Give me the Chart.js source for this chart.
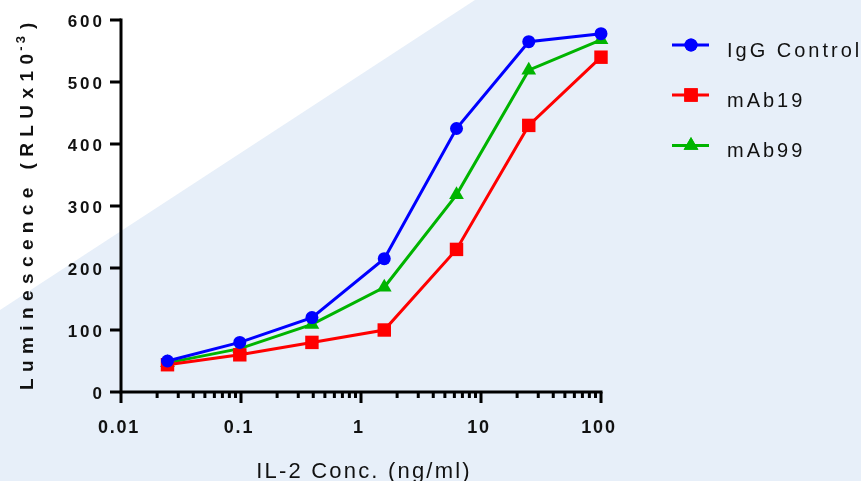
<!DOCTYPE html>
<html>
<head>
<meta charset="utf-8">
<script src="https://cdn.jsdelivr.net/npm/chart.js@4.4.1/dist/chart.umd.min.js"></script>
<style>
  html, body { margin: 0; padding: 0; background: #fff; }
  #wrap { width: 861px; height: 481px; }
</style>
</head>
<body>
<div id="wrap"><canvas id="c" width="861" height="481"></canvas></div>
<script>
// IL-2 concentrations (ng/ml), 4-fold dilution series
const concentrations = [0.0244, 0.0977, 0.39, 1.5625, 6.25, 25, 100];
const iggControl = [50, 80, 120, 215, 425, 565, 578];
const mab19 = [44, 60, 80, 100, 230, 430, 540];
const mab99 = [47, 70, 109, 169, 318, 519, 568];

const seriesNames = ['IgG Control', 'mAb19', 'mAb99'];
const seriesColors = ['#0000ff', '#ff0000', '#00b400'];
const seriesMarkers = ['circle', 'rect', 'triangle'];
const markerRadius = [6.5, 9.5, 8.5];

const xTickValues = [0.01, 0.1, 1, 10, 100];
const xTickLabels = ['0.01', '0.1', '1', '10', '100'];
const yTickValues = [0, 100, 200, 300, 400, 500, 600];

const xTitle = 'IL-2 Conc. (ng/ml)';
const yTitle = 'Luminescence (RLUx10';
const yTitleSup = '-3';

function makeDataset(i, values) {
  return {
    label: seriesNames[i],
    data: concentrations.map((x, k) => ({ x: x, y: values[k] })),
    borderColor: seriesColors[i],
    backgroundColor: seriesColors[i],
    borderWidth: 3,
    pointStyle: seriesMarkers[i],
    pointRadius: markerRadius[i],
    pointBorderWidth: 0,
    pointHoverRadius: markerRadius[i],
    tension: 0,
    clip: false
  };
}

// paint the two-tone page background
const backdrop = {
  id: 'backdrop',
  beforeDraw(chart) {
    const ctx = chart.ctx;
    ctx.save();
    ctx.fillStyle = '#e7eff9';
    ctx.fillRect(0, 0, chart.width, chart.height);
    ctx.fillStyle = '#ffffff';
    ctx.beginPath();
    ctx.moveTo(0, 0);
    ctx.lineTo(475, 0);
    ctx.lineTo(0, 310);
    ctx.closePath();
    ctx.fill();
    ctx.restore();
  }
};

const FONT = '"Liberation Sans", Arial, sans-serif';

// axes, ticks, labels, titles and legend drawn by hand
const axesAndLegend = {
  id: 'axesAndLegend',
  afterDraw(chart) {
    const ctx = chart.ctx;
    const xs = chart.scales.x;
    const ys = chart.scales.y;
    const x0 = xs.getPixelForValue(0.01);
    const x1 = xs.getPixelForValue(100);
    const y0 = ys.getPixelForValue(0);
    const y1 = ys.getPixelForValue(600);

    ctx.save();
    ctx.strokeStyle = '#000';
    ctx.lineWidth = 3;
    ctx.lineCap = 'butt';

    // axis lines
    ctx.beginPath();
    ctx.moveTo(x0, y1 - 1.5);
    ctx.lineTo(x0, y0);
    ctx.moveTo(x0 - 1.5, y0);
    ctx.lineTo(x1 + 1.5, y0);
    ctx.stroke();

    // y ticks
    ctx.beginPath();
    yTickValues.forEach(v => {
      const y = ys.getPixelForValue(v);
      ctx.moveTo(x0 - 11, y);
      ctx.lineTo(x0, y);
    });
    ctx.stroke();

    // x ticks, major and minor
    ctx.beginPath();
    for (let d = 0; d < xTickValues.length; d++) {
      const base = xTickValues[d];
      const x = xs.getPixelForValue(base);
      ctx.moveTo(x, y0);
      ctx.lineTo(x, y0 + 11);
      if (d < xTickValues.length - 1) {
        for (let m = 2; m <= 9; m++) {
          const xm = xs.getPixelForValue(base * m);
          ctx.moveTo(xm, y0);
          ctx.lineTo(xm, y0 + 6);
        }
      }
    }
    ctx.stroke();

    ctx.fillStyle = '#111';
    // y tick labels
    ctx.font = 'bold 17px ' + FONT;
    ctx.letterSpacing = '3px';
    ctx.textAlign = 'right';
    ctx.textBaseline = 'alphabetic';
    yTickValues.forEach(v => {
      ctx.fillText(String(v), x0 - 16, ys.getPixelForValue(v) + 6.5);
    });

    // x tick labels
    ctx.font = 'bold 18px ' + FONT;
    ctx.letterSpacing = '1.8px';
    ctx.textAlign = 'center';
    xTickValues.forEach((v, i) => {
      ctx.fillText(xTickLabels[i], xs.getPixelForValue(v) - 2, y0 + 41);
    });

    // x title
    ctx.font = '22px ' + FONT;
    ctx.letterSpacing = '2.2px';
    ctx.fillText(xTitle, (x0 + x1) / 2 + 3, 478);

    // y title, rotated with superscript
    ctx.save();
    ctx.translate(33, 390);
    ctx.rotate(-Math.PI / 2);
    ctx.textAlign = 'left';
    ctx.font = 'bold 19px ' + FONT;
    ctx.letterSpacing = '6.4px';
    ctx.fillText(yTitle, 0, 0);
    let w = ctx.measureText(yTitle).width;
    ctx.font = 'bold 13px ' + FONT;
    ctx.letterSpacing = '3px';
    ctx.fillText(yTitleSup, w - 3, -8);
    w += ctx.measureText(yTitleSup).width;
    ctx.font = 'bold 19px ' + FONT;
    ctx.letterSpacing = '6.4px';
    ctx.fillText(')', w + 1, 0);
    ctx.restore();

    // legend
    const rows = [45, 95, 145.5];
    ctx.font = '20px ' + FONT;
    ctx.letterSpacing = '3px';
    ctx.textAlign = 'left';
    chart.data.datasets.forEach((ds, i) => {
      const y = rows[i];
      ctx.strokeStyle = ds.borderColor;
      ctx.lineWidth = 3;
      ctx.beginPath();
      ctx.moveTo(672, y);
      ctx.lineTo(709, y);
      ctx.stroke();
      ctx.fillStyle = ds.backgroundColor;
      Chart.helpers.drawPoint(ctx, {
        pointStyle: ds.pointStyle, radius: ds.pointRadius, rotation: 0, borderWidth: 0
      }, 691, y);
      ctx.fill();
      ctx.fillStyle = '#111';
      ctx.fillText(ds.label, 727, y + 11.5);
    });
    ctx.restore();
  }
};

new Chart(document.getElementById('c'), {
  type: 'line',
  data: {
    datasets: [
      makeDataset(0, iggControl),
      makeDataset(1, mab19),
      makeDataset(2, mab99)
    ]
  },
  options: {
    responsive: false,
    animation: false,
    events: [],
    layout: { padding: { left: 121, right: 260, top: 20, bottom: 89 } },
    plugins: { legend: { display: false }, tooltip: { enabled: false } },
    scales: {
      x: { type: 'logarithmic', min: 0.01, max: 100, display: false },
      y: { type: 'linear', min: 0, max: 600, display: false }
    }
  },
  plugins: [backdrop, axesAndLegend]
});
</script>
</body>
</html>
